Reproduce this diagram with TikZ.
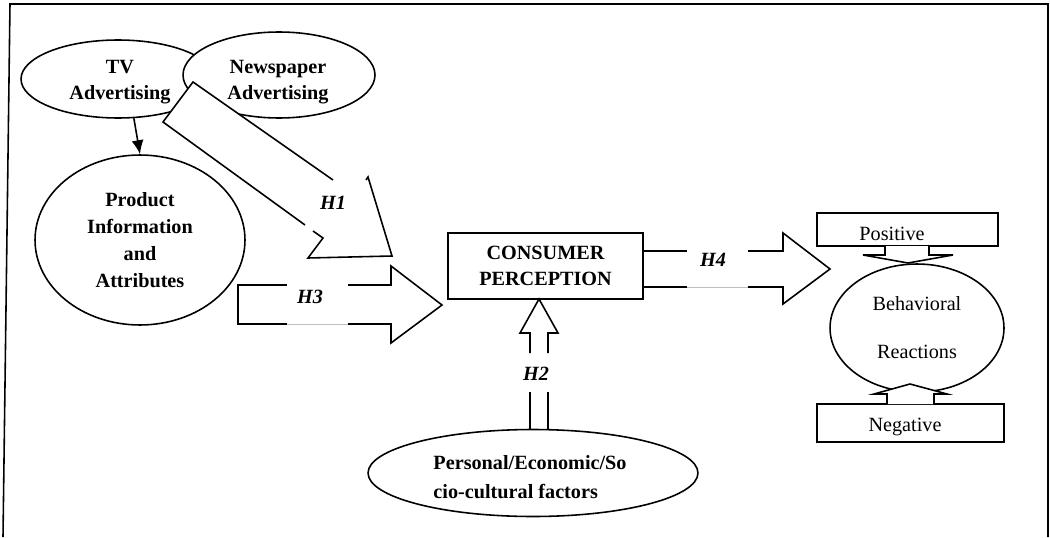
\documentclass[tikz,border=0pt]{standalone}
\usepackage{fontspec}
\setmainfont{Liberation Serif}
\usetikzlibrary{shapes.geometric,arrows.meta}
\begin{document}
\begin{tikzpicture}[x=0.02cm,y=-0.02cm,line width=0.9pt,line join=miter,
  ell/.style={ellipse,draw,fill=white,inner sep=0pt},
  bx/.style={rectangle,draw,fill=white,inner sep=0pt},
  bt/.style={font=\fontsize{11.5}{14.8}\selectfont\bfseries,align=center,inner sep=0pt},
  rt/.style={font=\fontsize{11.5}{14.8}\selectfont,align=center,inner sep=0pt},
  hl/.style={font=\fontsize{11.5}{14}\selectfont\bfseries\itshape,inner sep=0pt},
  gapline/.style={draw=black!25,line width=0.4pt}]
\useasboundingbox (0,0) rectangle (1050,537);
% frame
\coordinate (fbl) at (3,537);
\coordinate (ftl) at (10,4);
\coordinate (ftr) at (1048,4);
\coordinate (fbr) at (1048,537);
\draw (fbl) -- (ftl) -- (ftr) -- (fbr);
% advertising ellipses
\node[ell,minimum width=3.88cm,minimum height=1.56cm] (tv) at (118,79) {};
\node[ell,minimum width=3.84cm,minimum height=1.72cm] (np) at (279,75) {};
\node[bt] (tvt) at (120,82) {TV\\Advertising};
\node[bt] (npt) at (278,82) {Newspaper\\Advertising};
% product information
\node[ell,minimum width=4.2cm,minimum height=3.4cm,
  font=\fontsize{11.5}{15.4}\selectfont\bfseries,align=center] (prod) at (140,240)
  {Product\\Information\\and\\Attributes};
\draw[-{Latex[length=2.8mm,width=2.4mm]}] (tv.-68) -- (prod.north);
% H1 block arrow
\fill[white] (193,82) -- (355,195) -- (368,177) -- (392,256) -- (308,258) -- (323,238) -- (163,122) -- cycle;
\draw (333,180) -- (193,82) -- (163,122) -- (305,225);
\draw (313,231) -- (323,238) -- (308,258) -- (392,256) -- (368,177) -- (366,180);
\node[hl] (h1) at (333,203) {H1};
% H3 block arrow
\draw (287,285) -- (238,285) -- (238,324) -- (287,324);
\draw[gapline] (287,324) -- (348,324);
\draw (348,324) -- (391,324) -- (391,343) -- (442,305) -- (391,266) -- (391,285) -- (348,285);
\node[hl] (h3) at (310,297) {H3};
% consumer perception
\node[bx,minimum width=3.9cm,minimum height=1.32cm,
  font=\fontsize{11.5}{14.8}\selectfont\bfseries,align=center] (cp) at (545.5,266)
  {CONSUMER\\PERCEPTION};
% H4 block arrow
\draw (687,251) -- (cp.east |- 0,251);
\draw (748,251) -- (783,251) -- (783,233) -- (830,269) -- (783,304) -- (783,287) -- (748,287);
\draw[gapline] (687,287) -- (748,287);
\draw (687,287) -- (cp.east |- 0,287);
\node[hl] (h4) at (713,260) {H4};
% personal factors
\node[ell,minimum width=6.6cm,minimum height=1.74cm] (pers) at (533,473) {};
\node[font=\fontsize{11.5}{16.5}\selectfont\bfseries,align=left,inner sep=0pt] (perst) at (530,477)
  {Personal/Economic/So\\cio-cultural factors};
% H2 block arrow
\draw (530,353) -- (530,333) -- (520,333) -- (539,299) -- (558,333) -- (548,333) -- (548,353);
\draw (530,392) -- (530,430);
\draw (548,392) -- (548,430);
\node[hl] (h2) at (536,374) {H2};
% behavioral reactions
\node[ell,minimum width=3.48cm,minimum height=2.56cm,
  font=\fontsize{11.5}{27.3}\selectfont,align=center] (beh) at (917,328)
  {Behavioral\\Reactions};
\node[bx,minimum width=3.62cm,minimum height=0.66cm] (pos) at (907.5,229.5) {};
\node[rt,anchor=base] (post) at (892,240.5) {Positive};
\node[bx,minimum width=3.74cm,minimum height=0.76cm] (neg) at (910.5,423) {};
\node[rt,anchor=base] (negt) at (905,431.5) {Negative};
\filldraw[fill=white] (885,246) -- (885,255) -- (863,255) -- (908,263) -- (953,255) -- (929,255) -- (929,246);
\filldraw[fill=white] (887,404) -- (887,394) -- (874,394) -- (910,384) -- (947,394) -- (934,394) -- (934,404);
\end{tikzpicture}
\end{document}
